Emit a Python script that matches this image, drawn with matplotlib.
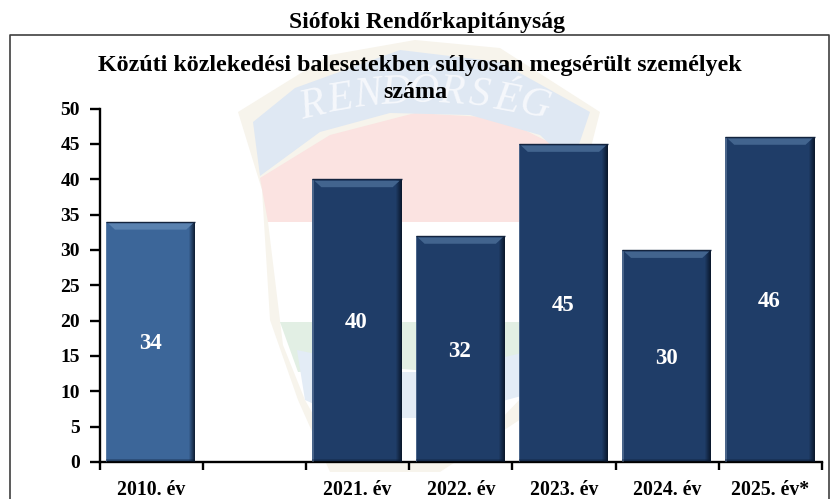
import numpy as np
import matplotlib
matplotlib.use('Agg')
import matplotlib.pyplot as plt
from matplotlib.patches import Polygon, Rectangle

# Data
categories = ['2010. év', '', '2021. év', '2022. év', '2023. év', '2024. év', '2025. év*']
values = [34, np.nan, 40, 32, 45, 30, 46]
bar_colors = ['#3c6699', '#1f3d68', '#1f3d68', '#1f3d68', '#1f3d68', '#1f3d68', '#1f3d68']
top_colors = ['#5a82b0', '#42648e', '#42648e', '#42648e', '#42648e', '#42648e', '#42648e']
y_ticks = [0, 5, 10, 15, 20, 25, 30, 35, 40, 45, 50]

W = 830
H = 499
plt.rcParams['font.family'] = ['Liberation Serif', 'DejaVu Serif']
plt.rcParams['font.weight'] = 'bold'

fig = plt.figure(figsize=(W / 100, H / 100), dpi=100)

# background layer in pixel coordinates (faded police badge)
bg = fig.add_axes([0, 0, 1, 1], zorder=0)
bg.set_xlim(0, W)
bg.set_ylim(H, 0)
bg.axis('off')
badge = [
    # cream outline
    ([(238, 112), (330, 55), (415, 40), (500, 48), (600, 112), (580, 190), (562, 330), (550, 400), (440, 472), (330, 472), (298, 400), (270, 320), (262, 190)], '#f7f4ec'),
    # white middle
    ([(268, 222), (556, 222), (546, 372), (500, 420), (440, 462), (340, 462), (305, 400), (283, 345)], '#ffffff'),
    # red field
    ([(260, 178), (330, 135), (415, 113), (500, 118), (565, 150), (556, 222), (268, 222)], '#fbe3e1'),
    # green band
    ([(280, 322), (550, 322), (546, 372), (500, 385), (440, 372), (390, 368), (298, 372)], '#e2efe4'),
    # blue lower field
    ([(297, 350), (400, 372), (440, 372), (535, 350), (525, 395), (440, 418), (345, 418), (305, 400)], '#e3ecf6'),
    # ribbon with the text
    ([(253, 122), (295, 88), (400, 50), (500, 62), (590, 112), (572, 165), (540, 135), (470, 115), (390, 113), (320, 132), (260, 176)], '#dfe8f3'),
]
for pts, col in badge:
    bg.add_patch(Polygon(pts, closed=True, facecolor=col, edgecolor='none'))

# badge lettering, follows the ribbon's arc
letters = 'RENDŐRSÉG'
for i, ch in enumerate(letters):
    t = i / (len(letters) - 1)
    lx = 312 + t * 223
    ly = 92 + 56 * (t - 0.5) ** 2
    rot = 13 - 27 * t
    bg.text(lx, ly, ch, color='#f6f8fc', fontsize=30, ha='center', va='center',
            rotation=rot, weight='normal', style='italic')

# frame around the chart, open at the bottom
bg.plot([9.5, 9.5, 829, 829], [H, 34.5, 34.5, H], color='#404040', lw=1.2, clip_on=False)

# the chart itself
left = 99.5
right = 822
top = 108.5
bottom = 462
ax = fig.add_axes([left / W, 1 - bottom / H, (right - left) / W, (bottom - top) / H], zorder=1)
ax.patch.set_alpha(0)

x = np.arange(len(categories))
bar_w = 0.865
ax.bar(x - 0.005, values, width=bar_w, color=bar_colors, edgecolor='none', zorder=2)

ax.set_xlim(-0.5, len(categories) - 0.5)
ax.set_ylim(0, 50)
px_x = len(categories) / (right - left)
px_y = 50 / (bottom - top)

# bevel on every bar
for xi, v, c_top in zip(x, values, top_colors):
    if np.isnan(v):
        continue
    x0 = xi - 0.005 - bar_w / 2
    x1 = xi - 0.005 + bar_w / 2
    # soft dark shading at the right edge
    for k in range(6):
        ax.add_patch(Rectangle((x1 - (k + 1) * px_x, 0), px_x, v, facecolor='#061020',
                               alpha=0.8 - k * 0.14, edgecolor='none', zorder=3))
    # lighter strip at the left edge
    ax.add_patch(Rectangle((x0, 0), px_x * 1.5, v, facecolor='#7f98b5', alpha=0.45,
                           edgecolor='none', zorder=3))
    # bottom edge
    ax.add_patch(Rectangle((x0, 0), bar_w, px_y * 3, facecolor='#0c1c34', alpha=0.3,
                           edgecolor='none', zorder=3))
    # highlighted top trapezoid
    ax.add_patch(Polygon([(x0 + 2 * px_x, v - 1.5 * px_y), (x1 - 2 * px_x, v - 1.5 * px_y),
                          (x1 - 9 * px_x, v - 8 * px_y), (x0 + 9 * px_x, v - 8 * px_y)],
                         closed=True, facecolor=c_top, edgecolor='none', zorder=4))
    ax.plot([x0, x1], [v, v], color='#14243e', lw=1, zorder=5, solid_capstyle='butt')
    ax.text(xi - 0.01, v / 2 - 0.3, str(v), color='white', fontsize=16.5, ha='center', va='center', zorder=6)

for s in ['top', 'right']:
    ax.spines[s].set_visible(False)
for s in ['left', 'bottom']:
    ax.spines[s].set_linewidth(1.7)
ax.set_yticks(y_ticks)
ax.set_xticks(np.arange(len(categories) + 1) - 0.5)
ax.set_xticklabels([])
ax.set_xticks(x, labels=categories, minor=True)
ax.tick_params(axis='x', which='major', length=6, width=1.7)
ax.tick_params(axis='x', which='minor', length=0, pad=13, labelsize=14.2)
ax.tick_params(axis='y', length=7, width=1.7, pad=7, labelsize=14)

# titles
fig.text(426.5 / W, 1 - 22.5 / H, 'Siófoki Rendőrkapitányság', fontsize=17, ha='center', va='center')
fig.text(420 / W, 1 - 65 / H, 'Közúti közlekedési balesetekben súlyosan megsérült személyek',
         fontsize=17.3, ha='center', va='center')
fig.text(415 / W, 1 - 93 / H, 'száma', fontsize=17.3, ha='center', va='center')

fig.savefig('out.png', dpi=100)
